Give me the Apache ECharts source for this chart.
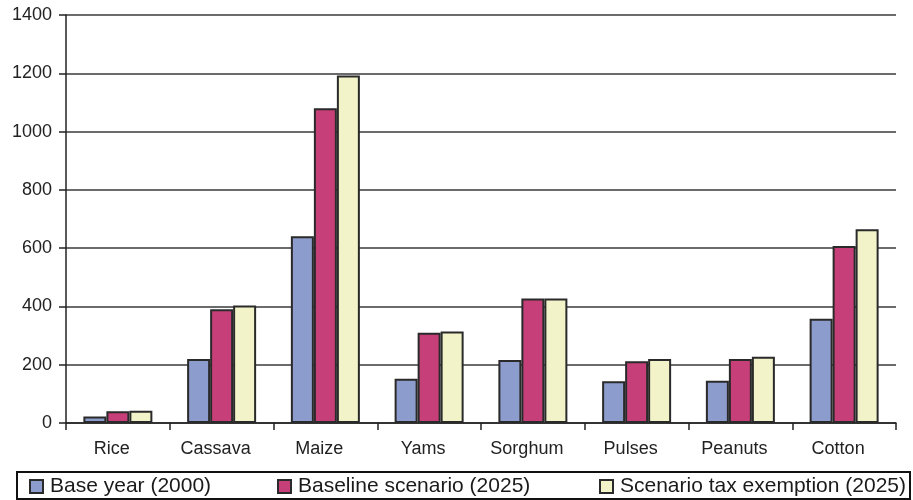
<!DOCTYPE html>
<html>
<head>
<meta charset="utf-8">
<script src="https://cdn.jsdelivr.net/npm/echarts@6/dist/echarts.min.js"></script>
<style>
  html, body { margin: 0; padding: 0; background: #fff; }
  #chart { width: 913px; height: 500px; }
</style>
</head>
<body>
<div id="chart"></div>
<script>
// Crops and production volumes for each scenario
const crops = ['Rice', 'Cassava', 'Maize', 'Yams', 'Sorghum', 'Pulses', 'Peanuts', 'Cotton'];
const baseYear2000 = [22, 220, 641, 152, 216, 143, 145, 358];
const baseline2025 = [40, 390, 1080, 310, 427, 212, 220, 607];
const taxExemption2025 = [42, 403, 1192, 314, 427, 220, 227, 665];
const seriesNames = ['Base year (2000)', 'Baseline scenario (2025)', 'Scenario tax exemption (2025)'];
const seriesColors = ['#8c9ccc', '#c63f78', '#f2f3c8'];

const FONT = 'Liberation Sans, Arial, sans-serif';
const chart = echarts.init(document.getElementById('chart'), null, { renderer: 'canvas' });

const makeSeries = (name, data, color) => ({
  name: name,
  type: 'bar',
  data: data,
  barGap: '0%',
  barCategoryGap: '33.5%',
  itemStyle: { color: color, borderColor: '#2a2a2a', borderWidth: 2 },
  emphasis: { disabled: true }
});

// one legend per series so each entry sits at its own x position
const legendLefts = [29, 277, 599];

chart.setOption({
  backgroundColor: '#ffffff',
  animation: false,
  grid: { left: 66, right: 17, top: 15, bottom: 77 },
  legend: seriesNames.map((n, i) => ({
    data: [n],
    left: legendLefts[i],
    top: 476,
    padding: 0,
    itemWidth: 13,
    itemHeight: 13,
    itemGap: 0,
    icon: 'rect',
    textStyle: { fontFamily: FONT, fontSize: 21, color: '#1a1a1a', padding: [0, 0, 0, 2] },
    itemStyle: { borderColor: '#2a2a2a', borderWidth: 2 },
    selectedMode: false
  })),
  graphic: [{
    type: 'rect',
    shape: { x: 17, y: 472, width: 893, height: 27 },
    style: { fill: 'none', stroke: '#111', lineWidth: 2 },
    silent: true,
    z: 0
  }],
  xAxis: {
    type: 'category',
    data: crops,
    axisLine: { lineStyle: { color: '#222', width: 1.5 } },
    axisTick: { show: true, length: 7, inside: false, lineStyle: { color: '#222', width: 1.5 } },
    axisLabel: { fontFamily: FONT, fontSize: 18, color: '#222', margin: 17, padding: [0, 12, 0, 0] }
  },
  yAxis: {
    type: 'value',
    min: 0,
    max: 1400,
    interval: 200,
    axisLine: { show: true, lineStyle: { color: '#222', width: 1.5 } },
    axisTick: { show: true, length: 7, lineStyle: { color: '#222', width: 1.5 } },
    axisLabel: { fontFamily: FONT, fontSize: 18, color: '#222', margin: 14, formatter: v => String(v) },
    splitLine: { lineStyle: { color: '#3a3a3a', width: 1.5 } }
  },
  series: [
    makeSeries(seriesNames[0], baseYear2000, seriesColors[0]),
    makeSeries(seriesNames[1], baseline2025, seriesColors[1]),
    makeSeries(seriesNames[2], taxExemption2025, seriesColors[2])
  ]
});
</script>
</body>
</html>
